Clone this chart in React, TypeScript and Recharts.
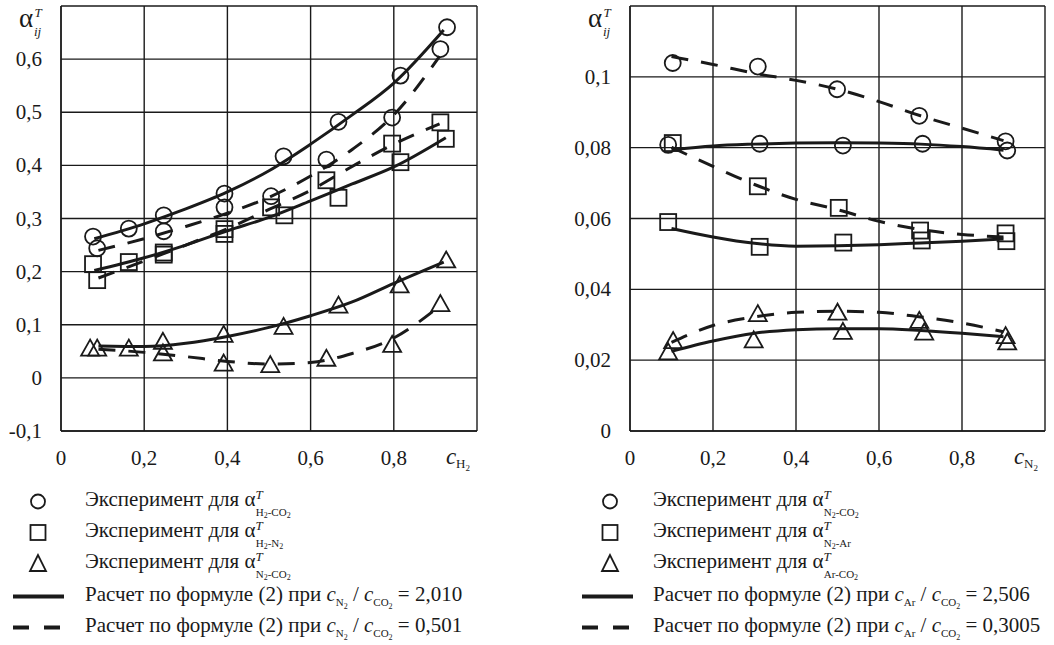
import React from 'react';
import { ComposedChart, Line, Scatter, XAxis, YAxis, CartesianGrid } from 'recharts';

const INK = '#1a1a1a';
const FONT = '"Liberation Serif", "Times New Roman", Times, "DejaVu Serif", serif';

// ---- left chart: x = c(H2) ----
const leftXTicks = [0, 0.2, 0.4, 0.6, 0.8, 1];
const leftYTicks = [-0.1, 0, 0.1, 0.2, 0.3, 0.4, 0.5, 0.6, 0.7];

const expH2CO2 = [[0.077, 0.266], [0.087, 0.244], [0.163, 0.281], [0.247, 0.306], [0.247, 0.276], [0.393, 0.347], [0.393, 0.321], [0.505, 0.342], [0.535, 0.417], [0.638, 0.411], [0.667, 0.482], [0.796, 0.49], [0.816, 0.569], [0.912, 0.619], [0.928, 0.66]];
const expH2N2 = [[0.077, 0.214], [0.087, 0.184], [0.163, 0.218], [0.247, 0.236], [0.247, 0.232], [0.393, 0.28], [0.393, 0.271], [0.505, 0.321], [0.537, 0.306], [0.638, 0.372], [0.667, 0.339], [0.796, 0.441], [0.816, 0.406], [0.912, 0.481], [0.925, 0.45]];
const expN2CO2 = [[0.07, 0.055], [0.087, 0.055], [0.163, 0.055], [0.245, 0.068], [0.245, 0.046], [0.391, 0.081], [0.391, 0.027], [0.503, 0.024], [0.535, 0.096], [0.638, 0.036], [0.667, 0.136], [0.796, 0.062], [0.814, 0.174], [0.912, 0.139], [0.926, 0.221]];

const calcH2CO2Solid = [[0.08, 0.262], [0.2, 0.29], [0.3, 0.318], [0.4, 0.35], [0.5, 0.39], [0.6, 0.44], [0.7, 0.495], [0.8, 0.555], [0.92, 0.655]];
const calcH2CO2Dash = [[0.09, 0.24], [0.2, 0.262], [0.3, 0.285], [0.4, 0.31], [0.5, 0.34], [0.6, 0.38], [0.7, 0.43], [0.8, 0.495], [0.91, 0.605]];
const calcH2N2Solid = [[0.08, 0.202], [0.2, 0.226], [0.3, 0.25], [0.4, 0.277], [0.5, 0.302], [0.6, 0.333], [0.7, 0.365], [0.8, 0.397], [0.925, 0.452]];
const calcH2N2Dash = [[0.09, 0.188], [0.2, 0.22], [0.3, 0.25], [0.4, 0.281], [0.5, 0.317], [0.6, 0.353], [0.7, 0.398], [0.8, 0.44], [0.91, 0.478]];
const calcN2CO2Solid = [[0.09, 0.06], [0.2, 0.059], [0.3, 0.065], [0.4, 0.078], [0.5, 0.095], [0.6, 0.117], [0.7, 0.143], [0.8, 0.178], [0.92, 0.218]];
const calcN2CO2Dash = [[0.09, 0.054], [0.2, 0.048], [0.3, 0.04], [0.4, 0.031], [0.5, 0.026], [0.6, 0.029], [0.7, 0.046], [0.8, 0.075], [0.91, 0.135]];

// ---- right chart: x = c(N2) ----
const rightXTicks = [0, 0.2, 0.4, 0.6, 0.8, 1];
const rightYTicks = [0, 0.02, 0.04, 0.06, 0.08, 0.1, 0.12];

const expN2CO2r = [[0.103, 0.1039], [0.308, 0.1029], [0.499, 0.0965], [0.697, 0.089], [0.905, 0.0818], [0.909, 0.0792], [0.092, 0.0808], [0.3125, 0.0811], [0.513, 0.0806], [0.705, 0.0811]];
const expN2Ar = [[0.103, 0.0813], [0.092, 0.059], [0.308, 0.0691], [0.3125, 0.052], [0.503, 0.063], [0.514, 0.0532], [0.699, 0.0566], [0.703, 0.0538], [0.905, 0.0558], [0.907, 0.0536]];
const expArCO2 = [[0.092, 0.0222], [0.104, 0.0254], [0.308, 0.033], [0.298, 0.0256], [0.5, 0.0334], [0.513, 0.028], [0.697, 0.0311], [0.709, 0.0278], [0.905, 0.0268], [0.909, 0.025]];

const calcN2CO2rSolid = [[0.1, 0.0794], [0.2, 0.0805], [0.3, 0.081], [0.4, 0.0813], [0.5, 0.0814], [0.6, 0.0813], [0.7, 0.081], [0.8, 0.0803], [0.9, 0.0793]];
const calcN2CO2rDash = [[0.1, 0.1057], [0.2, 0.1035], [0.3, 0.101], [0.4, 0.099], [0.5, 0.0965], [0.6, 0.093], [0.7, 0.089], [0.8, 0.0855], [0.9, 0.082]];
const calcN2ArSolid = [[0.1, 0.0572], [0.2, 0.0548], [0.3, 0.053], [0.4, 0.0522], [0.5, 0.0523], [0.6, 0.0526], [0.7, 0.0531], [0.8, 0.0536], [0.9, 0.0542]];
const calcN2ArDash = [[0.1, 0.0801], [0.2, 0.0747], [0.3, 0.0696], [0.4, 0.0654], [0.5, 0.0625], [0.6, 0.0592], [0.7, 0.0569], [0.8, 0.0555], [0.9, 0.0548]];
const calcArCO2Solid = [[0.1, 0.0225], [0.2, 0.0254], [0.3, 0.0276], [0.4, 0.0286], [0.5, 0.0289], [0.6, 0.0289], [0.7, 0.0284], [0.8, 0.0276], [0.9, 0.0266]];
const calcArCO2Dash = [[0.1, 0.025], [0.2, 0.0298], [0.3, 0.0322], [0.4, 0.0335], [0.5, 0.0338], [0.6, 0.0335], [0.7, 0.0322], [0.8, 0.0305], [0.9, 0.028]];

const pts = (a: number[][]) => a.map(([x, y]) => ({ x, y }));
const fmt = (v: number) => String(v).replace('.', ',');
const txt = { fontFamily: FONT, whiteSpace: 'pre' } as React.CSSProperties;

const CircleMark = (p: any) => <circle cx={p.cx} cy={p.cy} r={8} fill="none" stroke={INK} strokeWidth={1.8} />;
const SquareMark = (p: any) => <rect x={p.cx - 8} y={p.cy - 8} width={16} height={16} fill="none" stroke={INK} strokeWidth={1.8} />;
const TriMark = (p: any) => (
  <polygon points={`${p.cx},${p.cy - 9} ${p.cx - 9},${p.cy + 7} ${p.cx + 9},${p.cy + 7}`} fill="none" stroke={INK} strokeWidth={1.8} />
);

type Seg = { t: string; s?: number; i?: boolean; b?: number; dx?: number };

const Rich = ({ x, y, segs, size = 21, anchor }: { x: number; y: number; segs: Seg[]; size?: number; anchor?: string }) => {
  let prev = 0;
  return (
    <text x={x} y={y} fontSize={size} fill={INK} textAnchor={anchor} style={txt}>
      {segs.map((g, k) => {
        const b = g.b ?? 0;
        const dy = b - prev;
        prev = b;
        return (
          <tspan key={k} dy={dy || undefined} dx={g.dx} fontSize={g.s} fontStyle={g.i ? 'italic' : undefined}>
            {g.t}
          </tspan>
        );
      })}
    </text>
  );
};

const makeYTick = (top: number) => (props: any) => {
  const { x, y, payload } = props;
  if (Math.abs(payload.value - top) < 1e-9) {
    return (
      <g>
        <text x={x - 23} y={y + 21} fontSize={27} fill={INK} style={txt}>α</text>
        <text x={x - 7.5} y={y + 11} fontSize={13} fontStyle="italic" fill={INK} style={txt}>T</text>
        <text x={x - 8} y={y + 30} fontSize={13} fontStyle="italic" fill={INK} style={txt}>ij</text>
      </g>
    );
  }
  return (
    <text x={x} y={y + 7} textAnchor="end" fontSize={21} fill={INK} style={txt}>
      {fmt(payload.value)}
    </text>
  );
};

const makeXTick = (sub: string) => (props: any) => {
  const { x, y, payload } = props;
  if (payload.value === 1) {
    return (
      <Rich
        x={x - 7}
        y={y + 33}
        anchor="end"
        segs={[
          { t: 'c', i: true, s: 23 },
          { t: sub, s: 13, b: 4 },
          { t: '2', s: 9, b: 7 },
        ]}
      />
    );
  }
  return (
    <text x={x} y={y + 34} textAnchor="middle" fontSize={21} fill={INK} style={txt}>
      {fmt(payload.value)}
    </text>
  );
};

const alphaSegs = (parts: [string, string][]): Seg[] => {
  const out: Seg[] = [
    { t: 'Эксперимент для α' },
    { t: 'T', s: 13, i: true, b: -7 },
  ];
  parts.forEach(([main, low], k) => {
    out.push({ t: main, s: 11, b: 9.5, dx: k === 0 ? -7 : undefined });
    if (low) out.push({ t: low, s: 8, b: 12 });
  });
  return out;
};

const calcSegs = (num: [string, string], value: string): Seg[] => [
  { t: 'Расчет по формуле (2) при ' },
  { t: 'c', i: true },
  { t: num[0], s: 11, b: 5 },
  ...(num[1] ? [{ t: num[1], s: 8, b: 8 }] : []),
  { t: ' / ', b: 0 },
  { t: 'c', i: true },
  { t: 'CO', s: 11, b: 5 },
  { t: '2', s: 8, b: 8 },
  { t: ' = ' + value, b: 0 },
];

const rowsY = [506, 537, 568, 601, 632];

const LegendBlock = ({ mx, lx0, tx, rows }: { mx: number; lx0: number; tx: number; rows: Seg[][] }) => (
  <g>
    <circle cx={mx} cy={rowsY[0] - 4.5} r={7} fill="none" stroke={INK} strokeWidth={1.8} />
    <rect x={mx - 7.5} y={rowsY[1] - 12} width={15} height={15} fill="none" stroke={INK} strokeWidth={1.8} />
    <polygon points={`${mx},${rowsY[2] - 13} ${mx - 8},${rowsY[2] + 3} ${mx + 8},${rowsY[2] + 3}`} fill="none" stroke={INK} strokeWidth={1.8} />
    <line x1={lx0} x2={lx0 + 51} y1={rowsY[3] - 4.5} y2={rowsY[3] - 4.5} stroke={INK} strokeWidth={4} />
    <line x1={lx0} x2={lx0 + 48} y1={rowsY[4] - 4.5} y2={rowsY[4] - 4.5} stroke={INK} strokeWidth={4} strokeDasharray="16 15" />
    {rows.map((segs, k) => (
      <Rich key={k} x={tx} y={rowsY[k]} segs={segs} />
    ))}
  </g>
);

const Panel = ({
  xTicks, yTicks, yDomain, sub, circles, squares, tris, solids, dashes, marginLeft, marginRight, width,
}: any) => (
  <ComposedChart width={width} height={475} margin={{ top: 6, right: marginRight, left: marginLeft, bottom: 4 }} style={{ fontFamily: FONT }}>
    <CartesianGrid stroke={INK} strokeWidth={1.4} />
    <XAxis
      type="number"
      dataKey="x"
      domain={[0, 1]}
      ticks={xTicks}
      interval={0}
      height={40}
      tickSize={0}
      tickMargin={0}
      tickLine={false}
      axisLine={{ stroke: INK, strokeWidth: 1.4 }}
      tick={makeXTick(sub)}
    />
    <YAxis
      type="number"
      dataKey="y"
      domain={yDomain}
      ticks={yTicks}
      interval={0}
      width={50}
      tickSize={0}
      tickMargin={19}
      tickLine={false}
      axisLine={{ stroke: INK, strokeWidth: 1.4 }}
      tick={makeYTick(yDomain[1])}
    />
    {solids.map((d: number[][], k: number) => (
      <Line key={'s' + k} data={pts(d)} dataKey="y" type="monotone" stroke={INK} strokeWidth={3} dot={false} isAnimationActive={false} />
    ))}
    {dashes.map((d: number[][], k: number) => (
      <Line key={'d' + k} data={pts(d)} dataKey="y" type="monotone" stroke={INK} strokeWidth={3} strokeDasharray="17 13" dot={false} isAnimationActive={false} />
    ))}
    <Scatter data={pts(circles)} dataKey="y" shape={CircleMark} isAnimationActive={false} />
    <Scatter data={pts(squares)} dataKey="y" shape={SquareMark} isAnimationActive={false} />
    <Scatter data={pts(tris)} dataKey="y" shape={TriMark} isAnimationActive={false} />
  </ComposedChart>
);

export default function App() {
  return (
    <div style={{ position: 'absolute', left: 0, top: 0, width: 1054, height: 645, background: '#fff', overflow: 'hidden', fontFamily: FONT }}>
      <svg width={1054} height={645} style={{ position: 'absolute', left: 0, top: 0, fontFamily: FONT }}>
        <LegendBlock
          mx={38}
          lx0={13}
          tx={85}
          rows={[
            alphaSegs([['H', '2'], ['-CO', '2']]),
            alphaSegs([['H', '2'], ['-N', '2']]),
            alphaSegs([['N', '2'], ['-CO', '2']]),
            calcSegs(['N', '2'], '2,010'),
            calcSegs(['N', '2'], '0,501'),
          ]}
        />
        <LegendBlock
          mx={610}
          lx0={582}
          tx={653}
          rows={[
            alphaSegs([['N', '2'], ['-CO', '2']]),
            alphaSegs([['N', '2'], ['-Ar', '']]),
            alphaSegs([['Ar', ''], ['-CO', '2']]),
            calcSegs(['Ar', ''], '2,506'),
            calcSegs(['Ar', ''], '0,3005'),
          ]}
        />
      </svg>
      <div style={{ position: 'absolute', left: 0, top: 0 }}>
        <Panel
          width={520}
          marginLeft={11}
          marginRight={43}
          xTicks={leftXTicks}
          yTicks={leftYTicks}
          yDomain={[-0.1, 0.7]}
          sub="H"
          circles={expH2CO2}
          squares={expH2N2}
          tris={expN2CO2}
          solids={[calcH2CO2Solid, calcH2N2Solid, calcN2CO2Solid]}
          dashes={[calcH2CO2Dash, calcH2N2Dash, calcN2CO2Dash]}
        />
      </div>
      <div style={{ position: 'absolute', left: 560, top: 0 }}>
        <Panel
          width={494}
          marginLeft={20}
          marginRight={9}
          xTicks={rightXTicks}
          yTicks={rightYTicks}
          yDomain={[0, 0.12]}
          sub="N"
          circles={expN2CO2r}
          squares={expN2Ar}
          tris={expArCO2}
          solids={[calcN2CO2rSolid, calcN2ArSolid, calcArCO2Solid]}
          dashes={[calcN2CO2rDash, calcN2ArDash, calcArCO2Dash]}
        />
      </div>
    </div>
  );
}
